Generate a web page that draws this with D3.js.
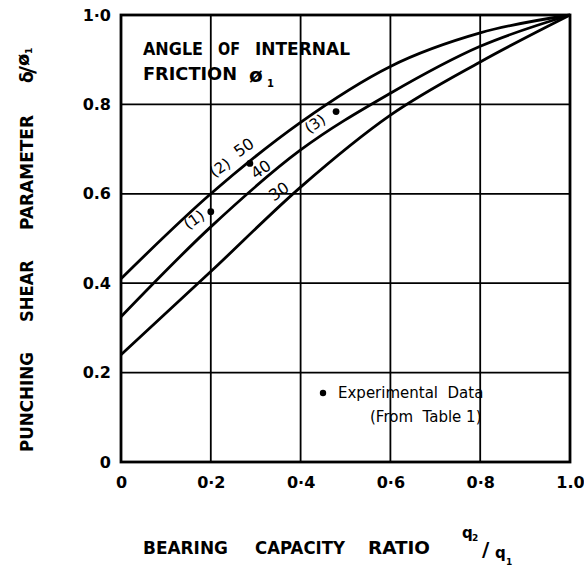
<!DOCTYPE html>
<html><head><meta charset="utf-8">
<script src="https://cdn.jsdelivr.net/npm/d3@7"></script>
<style>body{margin:0;background:#fff}svg{display:block}text{font-family:"DejaVu Sans",sans-serif;fill:#000}</style>
</head><body><div id="c"></div>
<script>
const xs = [0, 0.2, 0.4, 0.6, 0.8, 1.0];
const phi50 = [0.41, 0.60, 0.76, 0.885, 0.96, 1.0];
const phi40 = [0.325, 0.526, 0.698, 0.825, 0.93, 1.0];
const phi30 = [0.24, 0.426, 0.615, 0.776, 0.895, 1.0];
const seriesNames = ["50", "40", "30"];
const expX = [0.2, 0.287, 0.479];
const expY = [0.56, 0.668, 0.784];
const expLabels = ["(1)", "(2)", "(3)"];
const xTicks = [0, 0.2, 0.4, 0.6, 0.8, 1.0];
const xTickLabels = ["0", "0·2", "0·4", "0·6", "0·8", "1.0"];
const yTicks = [0, 0.2, 0.4, 0.6, 0.8, 1.0];
const yTickLabels = ["0", "0.2", "0.4", "0.6", "0.8", "1·0"];

const W = 584, H = 575;
const L = 121, R = 570, T = 15, B = 462;
const x = d3.scaleLinear().domain([0, 1]).range([L, R]);
const y = d3.scaleLinear().domain([0, 1]).range([B, T]);

const svg = d3.select("#c").append("svg").attr("width", W).attr("height", H);

// grid
svg.append("g").selectAll("line").data(xTicks.slice(1, -1)).join("line")
  .attr("x1", d => x(d)).attr("x2", d => x(d)).attr("y1", T).attr("y2", B)
  .attr("stroke", "#000").attr("stroke-width", 1.8);
svg.append("g").selectAll("line").data(yTicks.slice(1, -1)).join("line")
  .attr("y1", d => y(d)).attr("y2", d => y(d)).attr("x1", L).attr("x2", R)
  .attr("stroke", "#000").attr("stroke-width", 1.8);
// frame
svg.append("rect").attr("x", L).attr("y", T).attr("width", R - L).attr("height", B - T)
  .attr("fill", "none").attr("stroke", "#000").attr("stroke-width", 2.8);

// tick labels via d3 axes
const xAxis = d3.axisBottom(x).tickValues(xTicks).tickFormat((d, i) => xTickLabels[i]).tickSize(0).tickPadding(15);
const gx = svg.append("g").attr("transform", `translate(0,${B})`).call(xAxis);
gx.select(".domain").remove();
gx.selectAll("text").attr("font-size", 16).attr("font-weight", "bold").style("font-family", "'DejaVu Sans',sans-serif");
const yAxis = d3.axisLeft(y).tickValues(yTicks).tickFormat((d, i) => yTickLabels[i]).tickSize(0).tickPadding(10);
const gy = svg.append("g").attr("transform", `translate(${L},0)`).call(yAxis);
gy.select(".domain").remove();
gy.selectAll("text").attr("font-size", 16).attr("font-weight", "bold").style("font-family", "'DejaVu Sans',sans-serif");

// curves
const line = d3.line().x(d => x(d[0])).y(d => y(d[1])).curve(d3.curveMonotoneX);
[phi50, phi40, phi30].forEach(s => {
  svg.append("path").datum(xs.map((v, i) => [v, s[i]])).attr("d", line)
    .attr("fill", "none").attr("stroke", "#000").attr("stroke-width", 2.8);
});

// experimental points
svg.append("g").selectAll("circle").data(expX).join("circle")
  .attr("cx", d => x(d)).attr("cy", (d, i) => y(expY[i])).attr("r", 3.4).attr("fill", "#000");

// labels on curves
const lab = (t, px, py, rot, size) => svg.append("text").attr("x", px).attr("y", py)
  .attr("transform", `rotate(${rot},${px},${py})`).attr("text-anchor", "middle")
  .attr("font-size", size || 15).text(t);
lab(expLabels[0], 197, 224, -35);
lab(expLabels[1], 223, 172, -35);
lab(expLabels[2], 318, 128, -35);
lab(seriesNames[0], 247, 152, -35, 16);
lab(seriesNames[1], 264, 174, -35, 16);
lab(seriesNames[2], 282, 196, -35, 16);

// word helper
const word = (t, x0, x1, by, size, bold) => svg.append("text").attr("x", x0).attr("y", by)
  .attr("font-size", size).attr("font-weight", bold ? "bold" : "normal")
  .attr("textLength", x1 - x0).attr("lengthAdjust", "spacingAndGlyphs").text(t);

// annotation
word("ANGLE", 143, 203, 55, 17, true);
word("OF", 218, 240, 55, 17, true);
word("INTERNAL", 255, 350, 55, 17, true);
word("FRICTION", 143, 237, 80, 17, true);
svg.append("text").attr("x", 249).attr("y", 82).attr("font-size", 20).attr("font-weight", "bold").text("ø");
svg.append("text").attr("x", 267).attr("y", 87).attr("font-size", 10).attr("font-weight", "bold").text("1");

// legend
svg.append("circle").attr("cx", 323).attr("cy", 393).attr("r", 3.2).attr("fill", "#000");
svg.append("text").attr("x", 338).attr("y", 398).attr("font-size", 15).attr("xml:space", "preserve").text("Experimental  Data");
svg.append("text").attr("x", 370).attr("y", 422).attr("font-size", 15).attr("xml:space", "preserve").text("(From  Table 1)");

// x title
word("BEARING", 143, 228, 554, 17, true);
word("CAPACITY", 255, 345, 554, 17, true);
word("RATIO", 368, 430, 554, 17, true);
svg.append("text").attr("x", 462).attr("y", 538).attr("font-size", 15).attr("font-weight", "bold").text("q");
svg.append("text").attr("x", 472).attr("y", 541).attr("font-size", 9).attr("font-weight", "bold").text("2");
svg.append("text").attr("x", 482).attr("y", 556).attr("font-size", 20).attr("font-weight", "bold").text("/");
svg.append("text").attr("x", 495).attr("y", 558).attr("font-size", 15).attr("font-weight", "bold").text("q");
svg.append("text").attr("x", 506).attr("y", 565).attr("font-size", 9).attr("font-weight", "bold").text("1");

// y title (rotated words)
const vword = (t, y0, y1, bx, size) => svg.append("text")
  .attr("transform", `translate(${bx},${y0}) rotate(-90)`)
  .attr("font-size", size).attr("font-weight", "bold")
  .attr("textLength", y0 - y1).attr("lengthAdjust", "spacingAndGlyphs").text(t);
vword("PUNCHING", 452, 352, 33, 17);
vword("SHEAR", 322, 260, 33, 17);
vword("PARAMETER", 230, 115, 33, 17);
const g = svg.append("g").attr("transform", "translate(33,83) rotate(-90)");
g.append("text").attr("x", 0).attr("y", 0).attr("font-size", 17).attr("font-weight", "bold").text("δ");
g.append("text").attr("x", 9).attr("y", 2).attr("font-size", 22).attr("font-weight", "bold").text("/");
g.append("text").attr("x", 17).attr("y", -4).attr("font-size", 18).attr("font-weight", "bold").text("ø");
g.append("text").attr("x", 29).attr("y", -1).attr("font-size", 9).attr("font-weight", "bold").text("1");
</script></body></html>
